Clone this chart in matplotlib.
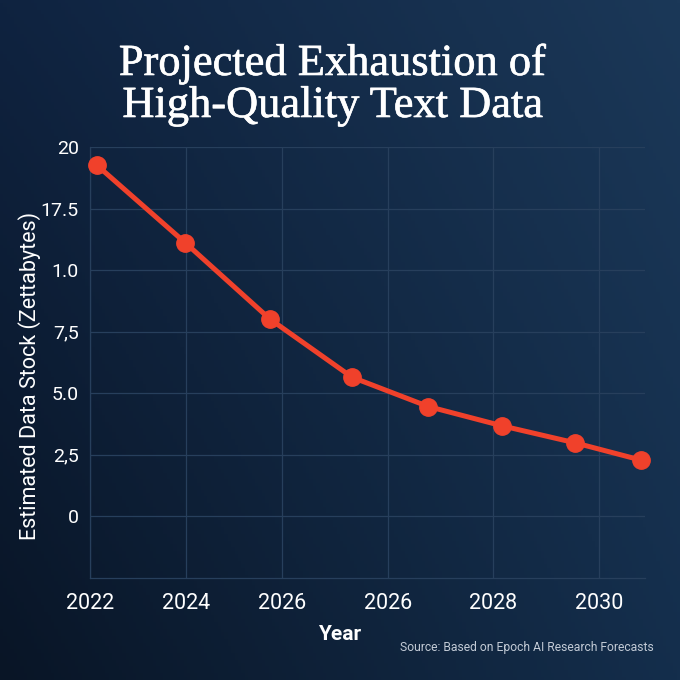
import numpy as np
import matplotlib.pyplot as plt
import matplotlib.patheffects as pe
from matplotlib.colors import to_rgb

# values (x is position along the year axis)
years = [2022.15, 2023.98, 2025.75, 2027.46, 2029.05, 2030.58, 2032.1, 2033.47]
stock = [14.25, 11.12, 8.01, 5.65, 4.46, 3.68, 2.99, 2.29]

x_tick_labels = ['2022', '2024', '2026', '2026', '2028', '2030']
y_tick_labels = ['0', '2,5', '5.0', '7,5', '1.0', '17.5', '20']

title_lines = ['Projected Exhaustion of', 'High-Quality Text Data']

plt.rcParams['font.family'] = ['Roboto', 'DejaVu Sans']

W, H = 680, 680
fig = plt.figure(figsize=(W / 100, H / 100), dpi=100)

# background gradient (dark bottom-left to lighter top-right)
bg = fig.add_axes([0, 0, 1, 1], zorder=-10)
tl, tr = np.array(to_rgb('#0f2340')), np.array(to_rgb('#1b3858'))
bl, br = np.array(to_rgb('#091526')), np.array(to_rgb('#142e4c'))
u = np.linspace(0, 1, 200)[None, :, None]
v = np.linspace(0, 1, 200)[:, None, None]
img = (1 - v) * ((1 - u) * tl + u * tr) + v * ((1 - u) * bl + u * br)
bg.imshow(img, aspect='auto', extent=[0, 1, 0, 1], origin='upper')
bg.axis('off')

ax = fig.add_axes([90 / W, 1 - 578 / H, (645 - 90) / W, (578 - 147) / H])
ax.set_facecolor('none')

ax.plot(years, stock, color='#f0412b', lw=3.6, marker='o', ms=12.5,
        solid_capstyle='round', zorder=5, clip_on=False)

ax.set_xlim(2022, 2033.56)
ax.set_ylim(-2.5, 15)
ax.set_xticks([2022, 2024, 2026, 2028.2, 2030.4, 2032.6])
ax.set_xticklabels(x_tick_labels)
ax.set_yticks(np.arange(0, 15.1, 2.5))
ax.set_yticklabels(y_tick_labels)

grid_col = '#273f5c'
ax.grid(True, color=grid_col, lw=0.9)
for side in ['top', 'right']:
    ax.spines[side].set_visible(False)
for side in ['left', 'bottom']:
    ax.spines[side].set_color(grid_col)
    ax.spines[side].set_linewidth(0.9)

ax.tick_params(axis='both', length=0, colors='white')
ax.tick_params(axis='x', labelsize=15.5, pad=11)
ax.tick_params(axis='y', labelsize=14, pad=8)

fig.text(30 / W, 1 - 376 / H, 'Estimated Data Stock (Zettabytes)', rotation=90,
         ha='center', va='center', color='white', fontsize=15.5)
fig.text(340 / W, 1 - 634 / H, 'Year', ha='center', va='center',
         color='white', fontsize=15, fontweight='bold')
fig.text(654 / W, 1 - 648 / H, 'Source: Based on Epoch AI Research Forecasts',
         ha='right', va='center', color='#c3cbd6', fontsize=8.7)

for line, base in zip(title_lines, [75, 117]):
    fig.text(333 / W, 1 - base / H, line, ha='center', va='baseline',
             color='white', fontsize=32, family='Liberation Serif',
             path_effects=[pe.withStroke(linewidth=0.45, foreground='white')])

fig.savefig('out.png', dpi=100)
